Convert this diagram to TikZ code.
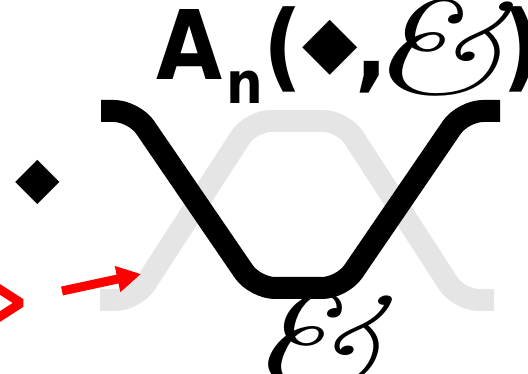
\documentclass[tikz,border=0pt]{standalone}
\usepackage{fontspec}
\newfontfamily\symfont{DejaVu Sans}
\usetikzlibrary{positioning,arrows.meta}
\definecolor{strandgray}{HTML}{E5E5E5}
\newcommand{\bigamp}{\scalebox{1.55}[1.1]{\normalfont\itshape\fontsize{120}{120}\selectfont\&}}

\begin{document}
\begin{tikzpicture}[
    x=1pt, y=-1pt,
    strand/.style={line width=22pt, rounded corners=20pt},
    back/.style={strand, draw=strandgray},
    front/.style={strand, draw=black},
    pointer/.style={red, line width=9pt, -{Triangle[length=24pt,width=25pt]}},
    chevron/.style={red, line width=9pt, line join=bevel},
    amp/.style={inner sep=0pt}
]
\clip (0,0) rectangle (528,374);

% Strands: grey one behind, black one in front
\draw[back] (100,300) -- (135,300) -- (251,121) -- (343,121) -- (459,300) -- (494,300);
\draw[front] (101,111) -- (134,111) -- (255,288) -- (342,288) -- (463,111) -- (500,111);

% Labels
\node[inner sep=0pt, anchor=base west] (title) at (156,80)
  {\symfont\bfseries\fontsize{96}{96}\selectfont
   \scalebox{0.89}[1]{A\kern5pt\raisebox{-24pt}{\fontsize{58}{58}\selectfont n}(}%
   \kern0pt\raisebox{13pt}{\mdseries\fontsize{72}{72}\selectfont ◆}%
   \kern-2pt\scalebox{0.89}[1]{,}\kern-22pt\raisebox{-14pt}{\bigamp}\kern-3pt\scalebox{0.89}[1]{)}};
\node[inner sep=0pt, font=\symfont\fontsize{58}{58}\selectfont] (point) at (38,182) {◆};
\node[amp] (label) at (315,342) {\bigamp};

% Red marks on the left
\coordinate (tail) at (62,291);
\coordinate (tip) at (141,274);
\draw[pointer] (tail) -- (tip);
\draw[chevron] (-10,283) -- (21,303) -- (-10,323);

\end{tikzpicture}
\end{document}
